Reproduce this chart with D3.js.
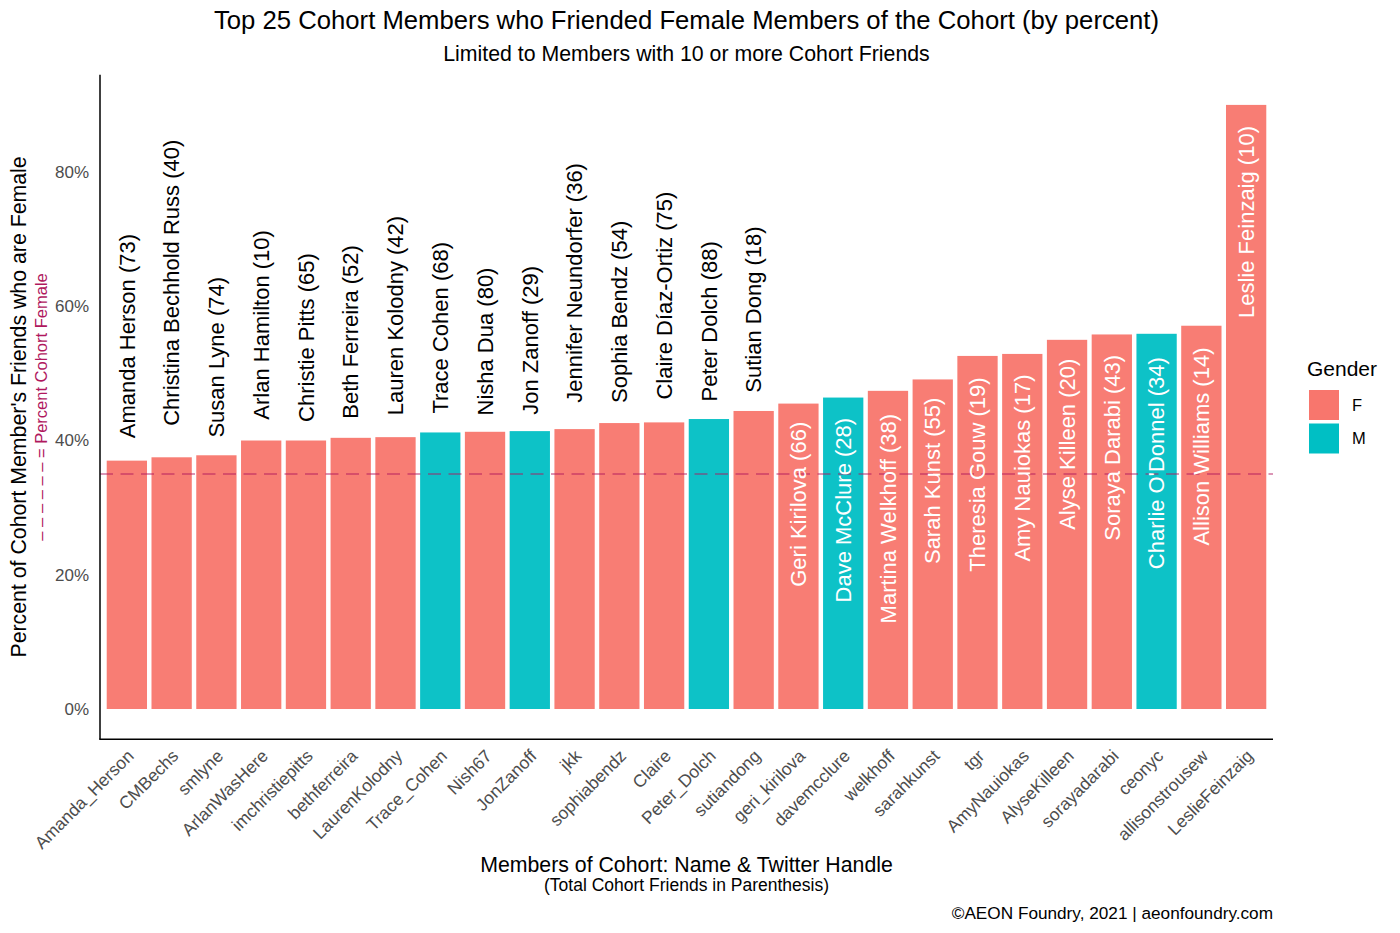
<!DOCTYPE html>
<html>
<head>
<meta charset="utf-8">
<script src="https://cdn.jsdelivr.net/npm/d3@7"></script>
<style>
  body { margin: 0; background: #fff; }
  svg { font-family: "Liberation Sans", Arial, Helvetica, sans-serif; }
</style>
</head>
<body>
<div id="chart"></div>
<script>
// -------- data ----------------------------- //
var names = [
  "Amanda Herson", "Christina Bechhold Russ", "Susan Lyne", "Arlan Hamilton",
  "Christie Pitts", "Beth Ferreira", "Lauren Kolodny", "Trace Cohen",
  "Nisha Dua", "Jon Zanoff", "Jennifer Neundorfer", "Sophia Bendz",
  "Claire Díaz-Ortiz", "Peter Dolch", "Sutian Dong", "Geri Kirilova",
  "Dave McClure", "Martina Welkhoff", "Sarah Kunst", "Theresia Gouw",
  "Amy Nauiokas", "Alyse Killeen", "Soraya Darabi", "Charlie O'Donnel",
  "Allison Williams", "Leslie Feinzaig"
];
var handles = [
  "Amanda_Herson", "CMBechs", "smlyne", "ArlanWasHere", "imchristiepitts",
  "bethferreira", "LaurenKolodny", "Trace_Cohen", "Nish67", "JonZanoff",
  "jkk", "sophiabendz", "Claire", "Peter_Dolch", "sutiandong",
  "geri_kirilova", "davemcclure", "welkhoff", "sarahkunst", "tgr",
  "AmyNauiokas", "AlyseKilleen", "sorayadarabi", "ceonyc",
  "allisonstrousew", "LeslieFeinzaig"
];
var friends = [73, 40, 74, 10, 65, 52, 42, 68, 80, 29, 36, 54, 75, 88, 18,
  66, 28, 38, 55, 19, 17, 20, 43, 34, 14, 10];
var gender = ["F", "F", "F", "F", "F", "F", "F", "M", "F", "M", "F", "F", "F",
  "M", "F", "F", "M", "F", "F", "F", "F", "F", "F", "M", "F", "F"];
var pctFemale = [37.0, 37.5, 37.8, 40.0, 40.0, 40.4, 40.5, 41.2, 41.3, 41.4,
  41.7, 42.6, 42.7, 43.2, 44.4, 45.5, 46.4, 47.4, 49.1, 52.6, 52.9, 55.0,
  55.8, 55.9, 57.1, 90.0];
var cohortFemale = 35; // dashed reference line
var yTicks = [0, 20, 40, 60, 80];
var genders = ["F", "M"];

var data = names.map(function(n, i) {
  return {
    label: n + " (" + friends[i] + ")",
    handle: handles[i],
    gender: gender[i],
    value: pctFemale[i] / 100
  };
});

var W = 1400, H = 933;
var pLeft = 100, pRight = 1273, pTop = 74.7, pBottom = 739.2;

var svg = d3.select("#chart").append("svg")
  .attr("width", W).attr("height", H);

var x = d3.scaleBand()
  .domain(handles)
  .range([pLeft, pRight])
  .paddingInner(0.1)
  .paddingOuter(0.15);

var maxV = d3.max(data, function(d) { return d.value; });
var y = d3.scaleLinear()
  .domain([-0.05 * maxV, maxV * 1.05])
  .range([pBottom, pTop]);

var color = d3.scaleOrdinal().domain(genders).range(["#F8766D", "#00BFC4"]);

// bars
svg.append("g")
  .selectAll("rect")
  .data(data)
  .join("rect")
  .attr("x", function(d) { return x(d.handle); })
  .attr("width", x.bandwidth())
  .attr("y", function(d) { return y(d.value); })
  .attr("height", function(d) { return y(0) - y(d.value); })
  .attr("fill", function(d) { return color(d.gender); })
  .attr("fill-opacity", 0.95);

// dashed cohort line
svg.append("line")
  .attr("x1", pLeft).attr("x2", pRight)
  .attr("y1", y(cohortFemale / 100)).attr("y2", y(cohortFemale / 100))
  .attr("stroke", "#B0185E")
  .attr("stroke-opacity", 0.6)
  .attr("stroke-width", 1.6)
  .attr("stroke-dasharray", "13,7.5");

// bar labels: above (black) for lower bars, inside (white) for higher ones
var inside = 0.45;
svg.append("g")
  .selectAll("text")
  .data(data)
  .join("text")
  .text(function(d) { return d.label; })
  .attr("font-size", 22)
  .attr("dy", "0.35em")
  .attr("fill", function(d) { return d.value > inside ? "#ffffff" : "#000000"; })
  .attr("text-anchor", function(d) { return d.value > inside ? "end" : "start"; })
  .attr("transform", function(d) {
    var len = this.getComputedTextLength();
    var off = 0.11 * len;
    var yy = d.value > inside ? y(d.value) + off : y(d.value) - off;
    return "translate(" + (x(d.handle) + x.bandwidth() / 2) + "," + yy + ") rotate(-90)";
  });

// y axis
var yAxis = svg.append("g")
  .attr("transform", "translate(" + pLeft + ",0)")
  .call(d3.axisLeft(y).tickValues(yTicks.map(function(t) { return t / 100; }))
    .tickFormat(d3.format(".0%")).tickSize(0).tickPadding(11));
yAxis.select(".domain").remove();
yAxis.selectAll("text").attr("font-size", 17).attr("fill", "#4d4d4d")
  .attr("font-family", null);

// x axis
var xAxis = svg.append("g")
  .attr("transform", "translate(0," + pBottom + ")")
  .call(d3.axisBottom(x).tickSize(0));
xAxis.select(".domain").remove();
xAxis.selectAll("text")
  .attr("font-size", 17.5)
  .attr("font-family", null)
  .attr("fill", "#4d4d4d")
  .attr("text-anchor", "end")
  .attr("y", 0)
  .attr("dy", "0.72em")
  .attr("transform", "translate(-1,9) rotate(-45)");

// axis lines
svg.append("line")
  .attr("x1", pLeft).attr("x2", pLeft).attr("y1", pTop).attr("y2", pBottom)
  .attr("stroke", "#000").attr("stroke-width", 1.5);
svg.append("line")
  .attr("x1", pLeft - 0.75).attr("x2", pRight).attr("y1", pBottom).attr("y2", pBottom)
  .attr("stroke", "#000").attr("stroke-width", 1.5);

// titles
var cx = (pLeft + pRight) / 2;
svg.append("text").attr("x", cx).attr("y", 29).attr("text-anchor", "middle")
  .attr("font-size", 25.7)
  .text("Top 25 Cohort Members who Friended Female Members of the Cohort (by percent)");
svg.append("text").attr("x", cx).attr("y", 61).attr("text-anchor", "middle")
  .attr("font-size", 21.3)
  .text("Limited to Members with 10 or more Cohort Friends");

svg.append("text").attr("x", cx).attr("y", 872).attr("text-anchor", "middle")
  .attr("font-size", 21.3)
  .text("Members of Cohort: Name & Twitter Handle");
svg.append("text").attr("x", cx).attr("y", 891).attr("text-anchor", "middle")
  .attr("font-size", 17.5)
  .text("(Total Cohort Friends in Parenthesis)");
svg.append("text").attr("x", pRight).attr("y", 919).attr("text-anchor", "end")
  .attr("font-size", 17.2)
  .text("©AEON Foundry, 2021 | aeonfoundry.com");

var cy = (pTop + pBottom) / 2;
svg.append("text")
  .attr("transform", "translate(26," + cy + ") rotate(-90)")
  .attr("text-anchor", "middle")
  .attr("font-size", 21.3)
  .text("Percent of Cohort Member's Friends who are Female");
svg.append("text")
  .attr("transform", "translate(47," + cy + ") rotate(-90)")
  .attr("text-anchor", "middle")
  .attr("font-size", 16.5)
  .attr("fill", "#B0185E")
  .text("– – – – – – = Percent Cohort Female");

// legend
var lg = svg.append("g").attr("transform", "translate(1309,376)");
lg.append("text").attr("x", -2).attr("y", 0).attr("font-size", 21).text("Gender");
lg.selectAll("rect")
  .data(genders)
  .join("rect")
  .attr("x", 0)
  .attr("y", function(d, i) { return 14 + i * 33.5; })
  .attr("width", 30).attr("height", 30)
  .attr("fill", function(d) { return color(d); });
lg.selectAll(".lab")
  .data(genders)
  .join("text")
  .attr("class", "lab")
  .attr("x", 43)
  .attr("y", function(d, i) { return 29 + i * 33.5; })
  .attr("dy", "0.35em")
  .attr("font-size", 16.5)
  .text(function(d) { return d; });
</script>
</body>
</html>
